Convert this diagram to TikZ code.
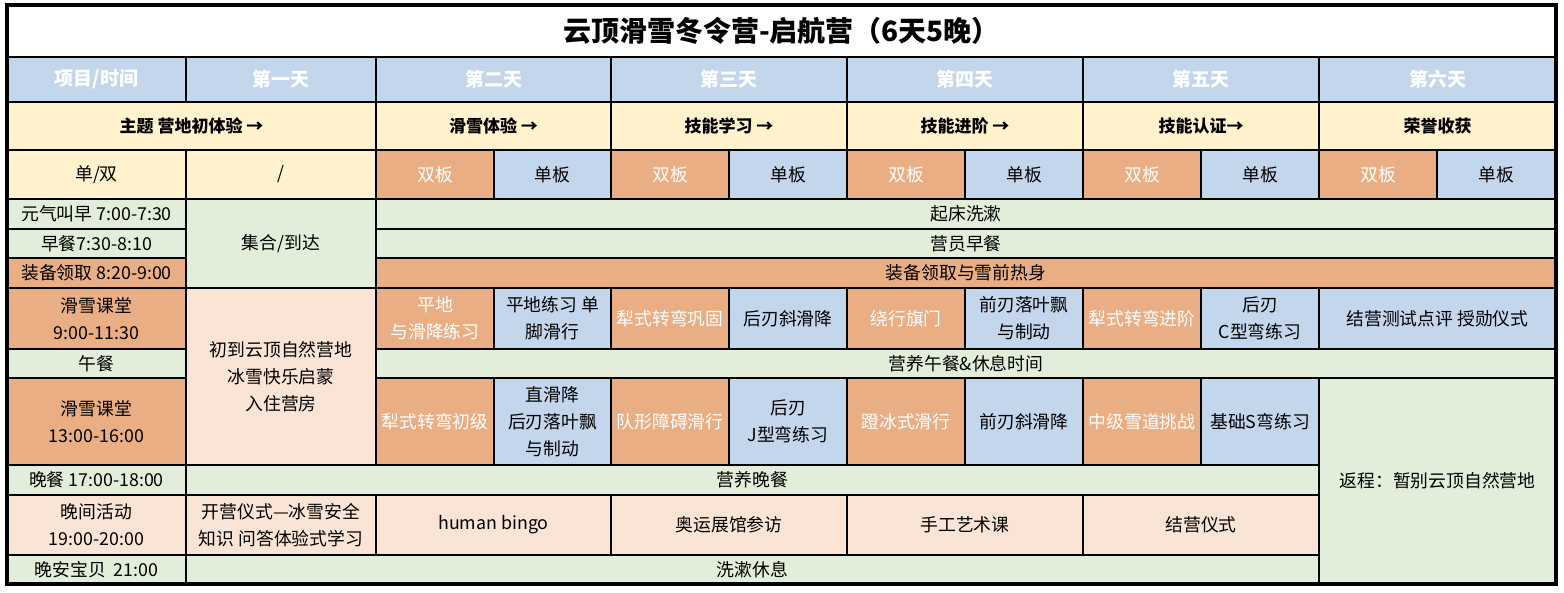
\documentclass[tikz,border=0pt]{standalone}
\usepackage{fontspec}
\setmainfont{Noto Sans CJK SC}
\usepackage{xcolor}
\definecolor{hdrblue}{HTML}{C4D6EC}
\definecolor{skiblue}{HTML}{C4D6EC}
\definecolor{skiorange}{HTML}{EAAE85}
\definecolor{mealgreen}{HTML}{E2EEDA}
\definecolor{evepink}{HTML}{FAE4D6}
\definecolor{themeyellow}{HTML}{FFF2CD}
% one table cell: style, name, x1, y1, x2, y2, text
\newcommand{\cell}[7]{\node[cell,#1,minimum width={(#5-#3)*1pt},minimum height={(#6-#4)*1pt}] (#2) at ({(#3+#5)/2},{(#4+#6)/2}) {#7};}

\begin{document}
\begin{tikzpicture}[x=1pt,y=-1pt,
	cell/.style={draw=black,line width=2pt,inner sep=0pt,outer sep=0pt,align=center,font=\fontsize{17.8}{27}\selectfont},
	day/.style={fill=hdrblue,text=white,font=\bfseries\fontsize{19}{22}\selectfont},
	theme/.style={fill=themeyellow,font=\bfseries\fontsize{17}{20}\selectfont},
	ski/.style={fill=skiorange,text=white},
	snow/.style={fill=skiblue},
	meal/.style={fill=mealgreen},
	eve/.style={fill=evepink},
	gear/.style={fill=skiorange}]
						\useasboundingbox (0,0) rectangle (1564,592);
						
						\cell{fill=white,font=\bfseries\fontsize{28}{32}\selectfont}{title}{7}{5}{1556}{57}{云顶滑雪冬令营-启航营（6天5晚）}
						
						\cell{day}{item}{7}{57}{186}{102}{项目/时间}
						\cell{day}{day1}{186}{57}{376}{102}{第一天}
						\foreach \a/\c/\t [count=\i from 2] in {376/611/第二天,611/847/第三天,847/1083/第四天,1083/1319/第五天,1319/1556/第六天}{
							\cell{day}{day\i}{\a}{57}{\c}{102}{\t}
						}
						
						\cell{theme}{theme1}{7}{102}{376}{150}{主题 营地初体验 →}
						\foreach \a/\c/\t [count=\i from 2] in {376/611/滑雪体验 →,611/847/技能学习 →,847/1083/技能进阶 →,1083/1319/技能认证→,1319/1556/荣誉收获}{
							\cell{theme}{theme\i}{\a}{102}{\c}{150}{\t}
						}
						
						\cell{fill=themeyellow}{board}{7}{150}{186}{199}{单/双}
						\cell{fill=themeyellow}{none}{186}{150}{376}{199}{/}
						\foreach \a/\b/\c [count=\i] in {376/494/611,611/729/847,847/965/1083,1083/1201/1319,1319/1437/1556}{
							\cell{ski}{dbl\i}{\a}{150}{\b}{199}{双板}
							\cell{snow}{sgl\i}{\b}{150}{\c}{199}{单板}
						}
						
						\cell{meal}{wake}{7}{199}{186}{229}{元气叫早 7:00-7:30}
						\cell{meal}{bfast}{7}{229}{186}{258}{早餐7:30-8:10}
						\cell{gear}{gear}{7}{258}{186}{288}{装备领取 8:20-9:00}
						\cell{meal}{arrive}{186}{199}{376}{288}{集合/到达}
						\cell{meal}{wash}{376}{199}{1556}{229}{起床洗漱}
						\cell{meal}{bfastall}{376}{229}{1556}{258}{营员早餐}
						\cell{gear}{gearall}{376}{258}{1556}{288}{装备领取与雪前热身}
						
						\cell{gear}{amski}{7}{288}{186}{349}{滑雪课堂\\9:00-11:30}
						\cell{eve}{camp}{186}{288}{376}{465}{初到云顶自然营地\\冰雪快乐启蒙\\入住营房}
						\cell{ski}{am1}{376}{288}{494}{349}{平地\\与滑降练习}
						\cell{snow}{am2}{494}{288}{611}{349}{平地练习 单\\脚滑行}
						\cell{ski}{am3}{611}{288}{729}{349}{犁式转弯巩固}
						\cell{snow}{am4}{729}{288}{847}{349}{后刃斜滑降}
						\cell{ski}{am5}{847}{288}{965}{349}{绕行旗门}
						\cell{snow}{am6}{965}{288}{1083}{349}{前刃落叶飘\\与制动}
						\cell{ski}{am7}{1083}{288}{1201}{349}{犁式转弯进阶}
						\cell{snow}{am8}{1201}{288}{1319}{349}{后刃\\C型弯练习}
						\cell{snow}{test}{1319}{288}{1556}{349}{结营测试点评 授勋仪式}
						
						\cell{meal}{lunch}{7}{349}{186}{378}{午餐}
						\cell{meal}{lunchall}{376}{349}{1556}{378}{营养午餐\&休息时间}
						
						\cell{gear}{pmski}{7}{378}{186}{465}{滑雪课堂\\13:00-16:00}
						\cell{ski}{pm1}{376}{378}{494}{465}{犁式转弯初级}
						\cell{snow}{pm2}{494}{378}{611}{465}{直滑降\\后刃落叶飘\\与制动}
						\cell{ski}{pm3}{611}{378}{729}{465}{队形障碍滑行}
						\cell{snow}{pm4}{729}{378}{847}{465}{后刃\\J型弯练习}
						\cell{ski}{pm5}{847}{378}{965}{465}{蹬冰式滑行}
						\cell{snow}{pm6}{965}{378}{1083}{465}{前刃斜滑降}
						\cell{ski}{pm7}{1083}{378}{1201}{465}{中级雪道挑战}
						\cell{snow}{pm8}{1201}{378}{1319}{465}{基础S弯练习}
						\cell{meal}{home}{1319}{378}{1556}{584}{返程：暂别云顶自然营地}
						
						\cell{meal}{dinner}{7}{465}{186}{495}{晚餐 17:00-18:00}
						\cell{meal}{dinnerall}{186}{465}{1319}{495}{营养晚餐}
						
						\cell{eve}{night}{7}{495}{186}{555}{晚间活动\\19:00-20:00}
						\cell{eve}{open}{186}{495}{376}{555}{开营仪式—冰雪安全\\知识 问答体验式学习}
						\cell{eve}{bingo}{376}{495}{611}{555}{human bingo}
						\cell{eve}{museum}{611}{495}{847}{555}{奥运展馆参访}
						\cell{eve}{craft}{847}{495}{1083}{555}{手工艺术课}
						\cell{eve}{close}{1083}{495}{1319}{555}{结营仪式}
						
						\cell{meal}{sleep}{7}{555}{186}{584}{晚安宝贝~~21:00}
						\cell{meal}{sleepall}{186}{555}{1319}{584}{洗漱休息}
						
						\draw[line width=3.5pt] (title.north west) rectangle (sleepall.south -| home.east);
						
					\end{tikzpicture}
\end{document}
